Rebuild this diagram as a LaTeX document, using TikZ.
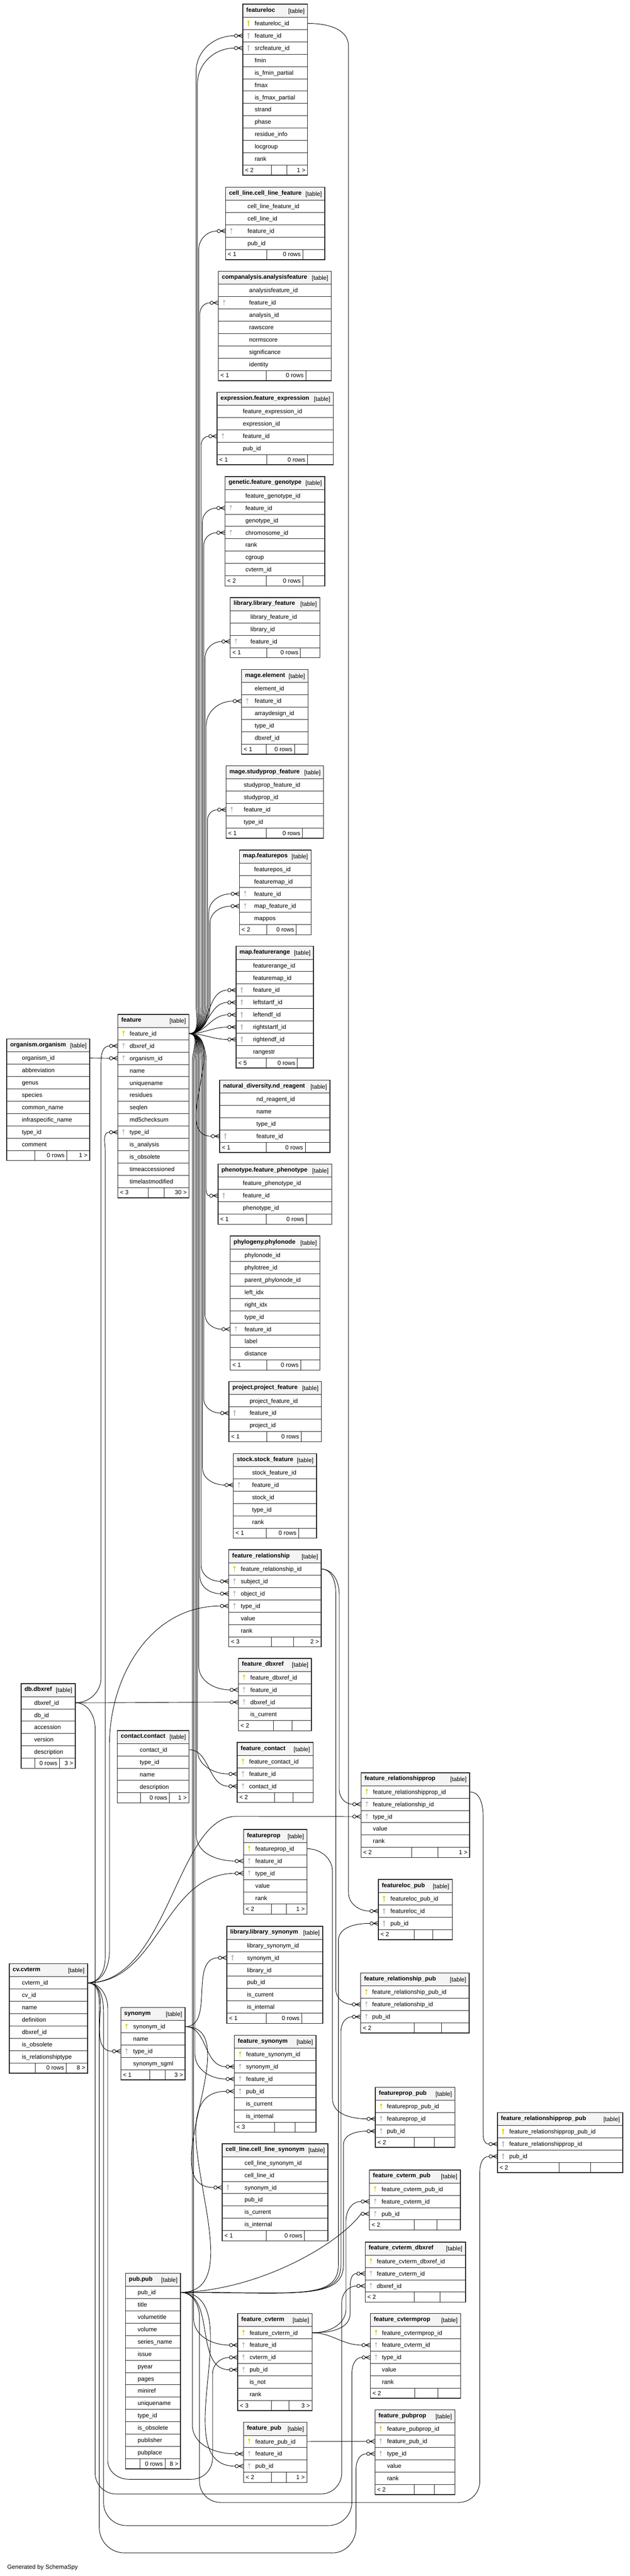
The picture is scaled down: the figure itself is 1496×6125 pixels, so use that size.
\documentclass[tikz,border=0pt]{standalone}
\usepackage{fontspec}
\setmainfont{Liberation Sans}
\usetikzlibrary{backgrounds}
\definecolor{hdrgray}{RGB}{244,244,244}
\definecolor{keyyel}{RGB}{226,212,0}
\definecolor{keygray}{RGB}{190,190,190}
\newcommand\tabfont{\fontsize{14.3}{17}\selectfont}
\tikzset{
  tbl/.style={draw=black!85, line width=1.2pt, inner sep=0pt, outer sep=0pt},
  hdr/.style={tbl, fill=hdrgray, minimum height=31pt},
  row/.style={tbl, fill=white, minimum height=29.3pt},
  foot/.style={tbl, fill=white, minimum height=24pt},
  lbl/.style={font=\tabfont, inner sep=0pt},
  ttl/.style={font=\tabfont\bfseries, inner sep=0pt},
  border/.style={draw=black!85, line width=1.8pt},
  fk/.style={draw=black, line width=1.1pt},
  keyp/.pic={\fill[keyyel] (0,-4.2) circle (2.6pt); \draw[keyyel, line width=1.6pt] (0,-2) -- (0,6.5);},
  keyf/.pic={\fill[keygray] (0,-4.2) circle (2.6pt); \draw[keygray, line width=1.6pt] (0,-2) -- (0,6.5);}
}
\newcommand\dbtable[8]{%
  \pgfmathsetmacro\tw{#4-#3}%
  \def\tL{#3}\def\tR{#4}%
  \node[hdr, minimum width=\tw pt, anchor=north west] (#1) at (#3,#5) {};
  \node[ttl, anchor=base west] (#1-name) at ({#3+8},{#5+18.3}) {#2};
  \node[lbl, anchor=base east] (#1-tag) at ({#4-7},{#5+20.8}) {[table]};
  \foreach[count=\i] \ky/\fn in {#7}{%
    \node[row, minimum width=\tw pt, anchor=north west] (#1-\i) at (#3,{#5+31+29.3*(\i-1)}) {};
    \node[lbl, anchor=base west] (#1-\i-t) at (#6,{#5+50.65+29.3*(\i-1)}) {\fn};
    \if p\ky \pic at ({#3+13.5},{#5+45.65+29.3*(\i-1)}) {keyp};\fi
    \if f\ky \pic at ({#3+13.5},{#5+45.65+29.3*(\i-1)}) {keyf};\fi
    \xdef\nrows{\i}}%
  \pgfmathsetmacro\fty{#5+31+29.3*\nrows}%
  \node[foot, minimum width=\tw pt, anchor=north west] (#1-ft) at (#3,\fty) {};
  \dbfoot{#1}#8\relax
  \draw[border] (#1.north west) rectangle (#1-ft.south east);
}
\def\dbfoot#1#2/#3/#4/#5/#6\relax{%
  \draw[tbl] (#2,\fty) -- (#2,{\fty+24}) (#3,\fty) -- (#3,{\fty+24});
  \node[lbl, anchor=base west] (#1-f1) at ({\tL+5},{\fty+16.8}) {#4};
  \node[lbl, anchor=base east] (#1-f2) at ({#3-5},{\fty+16.8}) {#5};
  \node[lbl, anchor=base east] (#1-f3) at ({\tR-5},{\fty+16.8}) {#6};}
\newcommand\fk[3]{%
  \draw[fk] (#1.east) #3 ([xshift=-20pt]#2.west);
  \draw[fk] ([xshift=-16pt]#2.west) circle (4pt)
    ([xshift=-12pt]#2.west) -- ([yshift=5pt]#2.west)
    ([xshift=-12pt]#2.west) -- (#2.west)
    ([xshift=-12pt]#2.west) -- ([yshift=-5pt]#2.west);}
\begin{document}
\catcode`\_=12
\begin{tikzpicture}[x=1pt, y=-1pt]
\useasboundingbox (0,0) rectangle (1496,6125);
\dbtable{floc}{featureloc}{577}{731}{10}{605}{p/featureloc_id,f/feature_id,f/srcfeature_id,n/fmin,n/is_fmin_partial,n/fmax,n/is_fmax_partial,n/strand,n/phase,n/residue_info,n/locgroup,n/rank}{645/681.3/< 2//1 >}
\dbtable{clf}{cell_line.cell_line_feature}{536}{772}{445}{588}{n/cell_line_feature_id,n/cell_line_id,f/feature_id,n/pub_id}{634/719.7/< 1/0 rows/}
\dbtable{af}{companalysis.analysisfeature}{519}{787}{645}{592}{n/analysisfeature_id,f/feature_id,n/analysis_id,n/rawscore,n/normscore,n/significance,n/identity}{633/726.7/< 1/0 rows/}
\dbtable{fexp}{expression.feature_expression}{516}{792}{933}{577}{n/feature_expression_id,n/expression_id,f/feature_id,n/pub_id}{634/730.7/< 1/0 rows/}
\dbtable{fg}{genetic.feature_genotype}{535}{772}{1133}{583}{n/feature_genotype_id,f/feature_id,n/genotype_id,f/chromosome_id,n/rank,n/cgroup,n/cvterm_id}{633/719.7/< 2/0 rows/}
\dbtable{lf}{library.library_feature}{547}{760}{1421}{595}{n/library_feature_id,n/library_id,f/feature_id}{634/714/< 1/0 rows/}
\dbtable{el}{mage.element}{574}{732}{1592}{605}{n/element_id,f/feature_id,n/arraydesign_id,n/type_id,n/dbxref_id}{633/699.7/< 1/0 rows/}
\dbtable{spf}{mage.studyprop_feature}{537}{769}{1821}{579}{n/studyprop_feature_id,n/studyprop_id,f/feature_id,n/type_id}{633/718.7/< 1/0 rows/}
\dbtable{fpos}{map.featurepos}{569}{739}{2021}{604}{n/featurepos_id,n/featuremap_id,f/feature_id,f/map_feature_id,n/mappos}{634.3/704/< 2/0 rows/}
\dbtable{frng}{map.featurerange}{561}{745}{2250}{601}{n/featurerange_id,n/featuremap_id,f/feature_id,f/leftstartf_id,f/leftendf_id,f/rightstartf_id,f/rightendf_id,n/rangestr}{633/706.7/< 5/0 rows/}
\dbtable{nd}{natural_diversity.nd_reagent}{522}{784}{2568}{609}{n/nd_reagent_id,n/name,n/type_id,f/feature_id}{633/725.3/< 1/0 rows/}
\dbtable{fph}{phenotype.feature_phenotype}{518}{788}{2768}{577}{n/feature_phenotype_id,f/feature_id,n/phenotype_id}{633/728/< 1/0 rows/}
\dbtable{phy}{phylogeny.phylonode}{547}{760}{2939}{581}{n/phylonode_id,n/phylotree_id,n/parent_phylonode_id,n/left_idx,n/right_idx,n/type_id,f/feature_id,n/label,n/distance}{634.3/714.7/< 1/0 rows/}
\dbtable{pf}{project.project_feature}{544}{764}{3285}{593}{n/project_feature_id,f/feature_id,n/project_id}{634.3/716/< 1/0 rows/}
\dbtable{sf}{stock.stock_feature}{554.5}{752}{3456}{599}{n/stock_feature_id,f/feature_id,n/stock_id,n/type_id,n/rank}{633/709.4/< 1/0 rows/}
\dbtable{frel}{feature_relationship}{543.6}{763}{3685}{572}{p/feature_relationship_id,f/subject_id,f/object_id,f/type_id,n/value,n/rank}{645/697.4/< 3//2 >}
\dbtable{fdx}{feature_dbxref}{566.5}{740}{3943}{594.6}{p/feature_dbxref_id,f/feature_id,f/dbxref_id,n/is_current}{650/694.5/< 2//}
\dbtable{fct}{feature_contact}{563.7}{744}{4143}{591.8}{p/feature_contact_id,f/feature_id,f/contact_id}{652/697/< 2//}
\dbtable{fp}{featureprop}{578.6}{729.5}{4350}{606.7}{p/featureprop_id,f/feature_id,f/type_id,n/value,n/rank}{645/681/< 2//1 >}
\dbtable{lsyn}{library.library_synonym}{539}{766.7}{4580}{587}{n/library_synonym_id,f/synonym_id,n/library_id,n/pub_id,n/is_current,n/is_internal}{632.7/717/< 1/0 rows/}
\dbtable{fsyn}{feature_synonym}{557}{751}{4839}{584.5}{p/feature_synonym_id,f/synonym_id,f/feature_id,f/pub_id,n/is_current,n/is_internal}{651.8/701.3/< 3//}
\dbtable{clsyn}{cell_line.cell_line_synonym}{528}{779}{5097}{581}{n/cell_line_synonym_id,n/cell_line_id,f/synonym_id,n/pub_id,n/is_current,n/is_internal}{632.7/723.5/< 1/0 rows/}
\dbtable{fcvt}{feature_cvterm}{565}{741.6}{5501}{593}{p/feature_cvterm_id,f/feature_id,f/cvterm_id,f/pub_id,n/is_not,n/rank}{645/686.5/< 3//3 >}
\dbtable{fpub}{feature_pub}{578.6}{729.5}{5759.5}{606.7}{p/feature_pub_id,f/feature_id,f/pub_id}{645/681/< 2//1 >}
\dbtable{frelprop}{feature_relationshipprop}{858}{1116}{4215}{886}{p/feature_relationshipprop_id,f/feature_relationship_id,f/type_id,n/value,n/rank}{978.7/1041/< 2//1 >}
\dbtable{flocpub}{featureloc_pub}{899}{1074.7}{4469}{927.6}{p/featureloc_pub_id,f/featureloc_id,f/pub_id}{984.5/1028/< 2//}
\dbtable{frelpub}{feature_relationship_pub}{857}{1115}{4691}{884}{p/feature_relationship_pub_id,f/feature_relationship_id,f/pub_id}{984/1049/< 2//}
\dbtable{fproppub}{featureprop_pub}{892}{1081}{4963}{919}{p/featureprop_pub_id,f/featureprop_id,f/pub_id}{984/1032/< 2//}
\dbtable{frelproppub}{feature_relationshipprop_pub}{1182}{1480}{5023}{1210}{p/feature_relationshipprop_pub_id,f/feature_relationshipprop_id,f/pub_id}{1328.7/1403.6/< 2//}
\dbtable{fcvtpub}{feature_cvterm_pub}{878}{1094}{5159.5}{906.4}{p/feature_cvterm_pub_id,f/feature_cvterm_id,f/pub_id}{984/1038.5/< 2//}
\dbtable{fcvtdbx}{feature_cvterm_dbxref}{867.7}{1106}{5331}{895}{p/feature_cvterm_dbxref_id,f/feature_cvterm_id,f/dbxref_id}{984.5/1045/< 2//}
\dbtable{fcvtprop}{feature_cvtermprop}{880}{1094.6}{5501}{907.5}{p/feature_cvtermprop_id,f/feature_cvterm_id,f/type_id,n/value,n/rank}{985/1040/< 2//}
\dbtable{fpubprop}{feature_pubprop}{891}{1081}{5730}{919.5}{p/feature_pubprop_id,f/feature_pub_id,f/type_id,n/value,n/rank}{984/1031.5/< 2//}
\dbtable{org}{organism.organism}{16}{213}{2470}{52}{n/organism_id,n/abbreviation,n/genus,n/species,n/common_name,n/infraspecific_name,n/type_id,n/comment}{82.3/158.7//0 rows/1 >}
\dbtable{feature}{feature}{280}{449}{2412}{308}{p/feature_id,f/dbxref_id,f/organism_id,n/name,n/uniquename,n/residues,n/seqlen,n/md5checksum,f/type_id,n/is_analysis,n/is_obsolete,n/timeaccessioned,n/timelastmodified}{351.7/390.3/< 3//30 >}
\dbtable{dbxref}{db.dbxref}{50}{179}{4003}{81}{n/dbxref_id,n/db_id,n/accession,n/version,n/description}{82.3/141.3//0 rows/3 >}
\dbtable{contact}{contact.contact}{279}{449}{4114.6}{332}{n/contact_id,n/type_id,n/name,n/description}{333.3/402.7//0 rows/1 >}
\dbtable{cvterm}{cv.cvterm}{22}{208}{4669}{52}{n/cvterm_id,n/cv_id,n/name,n/definition,n/dbxref_id,n/is_obsolete,n/is_relationshiptype}{84/157.3//0 rows/8 >}
\dbtable{syn}{synonym}{287}{440}{4773}{316.3}{p/synonym_id,n/name,f/type_id,n/synonym_sgml}{355.7/392/< 1//3 >}
\dbtable{pub}{pub.pub}{298}{429}{5405}{327}{n/pub_id,n/title,n/volumetitle,n/volume,n/series_name,n/issue,n/pyear,n/pages,n/miniref,n/uniquename,n/type_id,n/is_obsolete,n/publisher,n/pubplace}{332.3/392//0 rows/8 >}
\node[lbl, anchor=base west] (credit) at (17,6108) {Generated by SchemaSpy};
\begin{scope}[on background layer]
\fill[white] (0,0) rectangle (1496,6125);
\fk{feature-1}{floc-2}{to[out=0,in=-90] (466,2390) -- (466,170) to[out=90,in=180]}
\fk{feature-1}{floc-3}{to[out=0,in=-90] (469,2390) -- (469,200) to[out=90,in=180]}
\fk{feature-1}{clf-3}{to[out=0,in=-90] (472,2390) -- (472,594) to[out=90,in=180]}
\fk{feature-1}{af-2}{to[out=0,in=-90] (475,2390) -- (475,745) to[out=90,in=180]}
\fk{feature-1}{fexp-3}{to[out=0,in=-90] (478,2390) -- (478,1058) to[out=90,in=180]}
\fk{feature-1}{fg-2}{to[out=0,in=-90] (481,2390) -- (481,1240) to[out=90,in=180]}
\fk{feature-1}{fg-4}{to[out=0,in=-90] (484,2390) -- (484,1297) to[out=90,in=180]}
\fk{feature-1}{lf-3}{to[out=0,in=-90] (487,2390) -- (487,1565) to[out=90,in=180]}
\fk{feature-1}{el-2}{to[out=0,in=-90] (490,2390) -- (490,1725) to[out=90,in=180]}
\fk{feature-1}{spf-3}{to[out=0,in=-90] (493,2390) -- (493,1950) to[out=90,in=180]}
\fk{feature-1}{fpos-3}{to[out=0,in=-90] (496,2390) -- (496,2170) to[out=90,in=180]}
\fk{feature-1}{fpos-4}{to[out=0,in=-90] (499,2390) -- (499,2195) to[out=90,in=180]}
\foreach \r in {3,...,7}{\fk{feature-1}{frng-\r}{to[out=0,in=180]}}
\fk{feature-1}{nd-4}{to[out=0,in=180]}
\fk{feature-1}{fph-2}{to[out=0,in=90] (490,2525) -- (490,2822) to[out=-90,in=180]}
\fk{feature-1}{phy-7}{to[out=0,in=90] (487,2525) -- (487,3125) to[out=-90,in=180]}
\fk{feature-1}{pf-2}{to[out=0,in=90] (484,2525) -- (484,3325) to[out=-90,in=180]}
\fk{feature-1}{sf-2}{to[out=0,in=90] (481,2525) -- (481,3490) to[out=-90,in=180]}
\fk{feature-1}{frel-2}{to[out=0,in=90] (478,2525) -- (478,3722) to[out=-90,in=180]}
\fk{feature-1}{frel-3}{to[out=0,in=90] (475,2525) -- (475,3748) to[out=-90,in=180]}
\fk{feature-1}{fdx-2}{to[out=0,in=90] (472,2525) -- (472,3960) to[out=-90,in=180]}
\fk{feature-1}{fct-2}{to[out=0,in=90] (469,2525) -- (469,4160) to[out=-90,in=180]}
\fk{feature-1}{fp-2}{to[out=0,in=90] (466,2525) -- (466,4362) to[out=-90,in=180]}
\fk{feature-1}{fsyn-3}{to[out=0,in=90] (463,2525) -- (463,4883) to[out=-90,in=180]}
\fk{feature-1}{fcvt-2}{to[out=0,in=90] (460,2525) -- (460,5512) to[out=-90,in=180]}
\fk{feature-1}{fpub-2}{to[out=0,in=90] (457,2525) -- (457,5765) to[out=-90,in=180]}
\fk{org-1}{feature-3}{--}
\fk{dbxref-1}{feature-2}{to[out=0,in=-90] (240,3990) -- (240,2530) to[out=90,in=180]}
\fk{dbxref-1}{fdx-3}{to[out=0,in=180]}
\fk{dbxref-1}{fcvtdbx-3}{to[out=0,in=90] (226,4110) -- (226,5880) to[out=-90,in=180] (276,5930) -- (762,5930) to[out=0,in=-90] (812,5880) -- (812,5475) to[out=90,in=180]}
\fk{cvterm-1}{feature-9}{to[out=0,in=-90] (250,4655) -- (250,2735) to[out=90,in=180]}
\fk{cvterm-1}{frel-4}{to[out=0,in=-90] (260,4640) -- (260,4150) to[out=90,in=180]}
\fk{cvterm-1}{frelprop-3}{.. controls (400,4715) and (420,4319) .. (560,4319) --}
\fk{cvterm-1}{fp-3}{to[out=0,in=180]}
\fk{cvterm-1}{syn-3}{to[out=0,in=180]}
\fk{cvterm-1}{fcvt-3}{to[out=0,in=90] (256,4775) -- (256,5850) to[out=-90,in=180] (306,5895) -- (455,5895) to[out=0,in=-90] (505,5845) -- (505,5645) to[out=90,in=180]}
\fk{cvterm-1}{fcvtprop-3}{to[out=0,in=90] (246,4785) -- (246,5950) to[out=-90,in=180] (300,6005) -- (780,6005) to[out=0,in=-90] (836,5950) -- (836,5645) to[out=90,in=180]}
\fk{cvterm-1}{fpubprop-3}{to[out=0,in=90] (236,4790) -- (236,6010) to[out=-90,in=180] (296,6070) -- (790,6070) to[out=0,in=-90] (846,6010) -- (846,5870) to[out=90,in=180]}
\fk{syn-1}{lsyn-2}{to[out=0,in=180]}
\fk{syn-1}{fsyn-2}{to[out=0,in=180]}
\fk{syn-1}{clsyn-3}{to[out=0,in=180]}
\fk{contact-1}{fct-3}{to[out=0,in=180]}
\fk{pub-1}{fsyn-4}{to[out=0,in=180]}
\fk{pub-1}{fcvt-4}{to[out=0,in=180]}
\fk{pub-1}{fpub-3}{to[out=0,in=180]}
\fk{pub-1}{fcvtpub-3}{.. controls (620,5445) and (805,5335) ..}
\fk{pub-1}{flocpub-3}{.. controls (700,5450) and (804,5470) .. (804,5385) -- (804,4615) to[out=90,in=180]}
\fk{pub-1}{frelpub-3}{.. controls (700,5450) and (810,5470) .. (810,5385) -- (810,4830) to[out=90,in=180]}
\fk{pub-1}{fproppub-3}{.. controls (700,5450) and (816,5470) .. (816,5385) -- (816,5100) to[out=90,in=180]}
\fk{pub-1}{frelproppub-3}{to[out=0,in=90] (474,5510) -- (474,5900) to[out=-90,in=180] (524,5950) -- (1090,5950) to[out=0,in=-90] (1140,5900) -- (1140,5165) to[out=90,in=180]}
\fk{floc-1}{flocpub-2}{to[out=0,in=90] (828,110) -- (828,4500) to[out=-90,in=180]}
\fk{frel-1}{frelprop-2}{to[out=0,in=90] (806,3790) -- (806,4255) to[out=-90,in=180]}
\fk{frel-1}{frelpub-2}{to[out=0,in=90] (798,3790) -- (798,4730) to[out=-90,in=180]}
\fk{fp-1}{fproppub-2}{to[out=0,in=90] (790,4450) -- (790,4990) to[out=-90,in=180]}
\fk{frelprop-1}{frelproppub-2}{to[out=0,in=90] (1148,4320) -- (1148,5060) to[out=-90,in=180]}
\fk{fcvt-1}{fcvtpub-2}{to[out=0,in=-90] (822,5490) -- (822,5280) to[out=90,in=180]}
\fk{fcvt-1}{fcvtdbx-2}{to[out=0,in=-90] (832,5500) -- (832,5440) to[out=90,in=180]}
\fk{fcvt-1}{fcvtprop-2}{to[out=0,in=180]}
\fk{fpub-1}{fpubprop-2}{--}
\end{scope}
\end{tikzpicture}
\end{document}
